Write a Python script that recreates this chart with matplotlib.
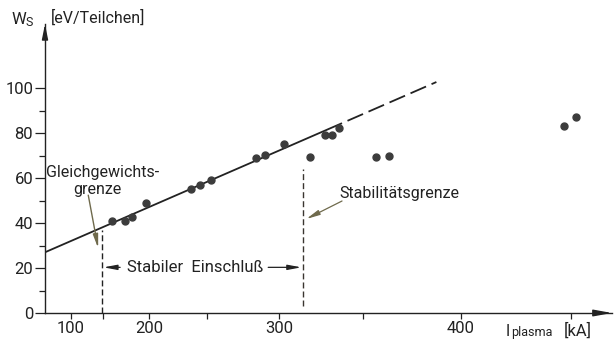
import numpy as np
import matplotlib
matplotlib.use("Agg")
import matplotlib.pyplot as plt

plt.rcParams["font.family"] = ["Roboto", "DejaVu Sans"]
plt.rcParams["lines.scale_dashes"] = False

# measured points: plasma current [kA] vs. W_s [eV/particle]
current_kA = [161, 175, 183, 197, 237, 244, 253, 285, 291, 303,
              319, 328, 332, 336, 357, 364, 447, 452]
energy_eV = [40.8, 41.0, 42.5, 49.0, 55.1, 56.7, 59.1, 68.7, 70.4, 75.1,
             69.2, 79.2, 79.1, 82.1, 69.3, 69.9, 83.2, 87.1]

# straight fit (in I^2), solid part then extrapolated part
fit_current = [0, 338, 388]
fit_energy = [27.0, 84.4, 102.7]

# limits
equilibrium_kA = 148
equilibrium_W = [0, 37]
stability_kA = 315
stability_W = [3, 64]

x_ticks = [100, 150, 200, 250, 300, 350, 400, 450]
x_labels = ["100", "", "200", "", "300", "", "400", ""]
y_ticks = [0, 20, 40, 60, 80, 100]
y_minor = [10, 30, 50, 70, 90]

ink = "#222222"
olive = "#6f6a4c"


def fwd(x):
    x = np.asarray(x, dtype=float)
    return np.sign(x) * x ** 2


def inv(x):
    x = np.asarray(x, dtype=float)
    return np.sign(x) * np.sqrt(np.abs(x))


fig = plt.figure(figsize=(6.14, 3.43), dpi=100)
ax = fig.add_axes([45 / 614, 30 / 343, 567 / 614, 289 / 343])
ax.set_xscale("function", functions=(fwd, inv))
ax.set_xlim(0, 467)
ax.set_ylim(0, 128.5)

for s in ["top", "right"]:
    ax.spines[s].set_visible(False)
for s in ["left", "bottom"]:
    ax.spines[s].set_linewidth(1.0)
    ax.spines[s].set_color(ink)

ax.set_xticks(x_ticks, x_labels)
ax.set_xticks([], minor=True)
ax.set_yticks(y_ticks)
ax.set_yticks(y_minor, minor=True)
ax.tick_params(axis="x", direction="out", length=4.5, width=0.9, pad=1.5,
               labelsize=12, colors=ink)
ax.tick_params(axis="y", which="major", direction="out", length=7, width=0.9,
               pad=1.5, labelsize=12, colors=ink)
ax.tick_params(axis="y", which="minor", direction="out", length=4.5, width=0.9,
               colors=ink)

# axis arrows
arrow_kw = dict(arrowstyle="-|>,head_length=0.9,head_width=0.18", color=ink,
                lw=1.0, shrinkA=0, shrinkB=0, mutation_scale=10)
ax.annotate("", xy=(0, 1), xytext=(0, 0.96), xycoords="axes fraction",
            arrowprops=arrow_kw, annotation_clip=False)
ax.annotate("", xy=(1, 0), xytext=(0.97, 0), xycoords="axes fraction",
            arrowprops=dict(arrow_kw, arrowstyle="-|>,head_length=1.1,head_width=0.2"),
            annotation_clip=False)

# fit line
ax.plot(fit_current[:2], fit_energy[:2], color=ink, lw=1.3,
        solid_capstyle="butt")
ax.plot(fit_current[1:], fit_energy[1:], color=ink, lw=1.3,
        linestyle=(12.2, (12.2, 4.3)), dash_capstyle="butt")

# data points
ax.plot(current_kA, energy_eV, "o", ms=5, color="#3c3c3c", mec="#3c3c3c",
        clip_on=False)

# limit lines
ax.plot([equilibrium_kA] * 2, equilibrium_W, color=ink, lw=1.0,
        linestyle=(0, (4.3, 2.2)))
ax.plot([stability_kA] * 2, stability_W, color="#3a3530", lw=1.0,
        linestyle=(0, (4.3, 2.2)))

# labels
ax.text(149, 60.4, "Gleichgewichts-", ha="center", va="baseline",
        fontsize=11.5, color=ink)
ax.text(142, 52.9, "grenze", ha="center", va="baseline", fontsize=11.5,
        color=ink)
ax.annotate("", xy=(143, 28.8), xytext=(129, 52.4),
            arrowprops=dict(arrowstyle="-|>,head_length=0.8,head_width=0.15",
                            color=olive, lw=1.0, shrinkA=0, shrinkB=0,
                            mutation_scale=10))

ax.text(240, 18.1, "Stabiler  Einschluß", ha="center", va="baseline",
        fontsize=12, color=ink)
small_arrow = dict(arrowstyle="-|>,head_length=0.8,head_width=0.15",
                   color=ink, lw=0.9, shrinkA=0, shrinkB=0, mutation_scale=10)
ax.annotate("", xy=(150, 20.3), xytext=(170, 20.3), arrowprops=small_arrow)
ax.annotate("", xy=(314, 20.3), xytext=(293, 20.3), arrowprops=small_arrow)

ax.text(369, 51.0, "Stabilitätsgrenze", ha="center", va="baseline",
        fontsize=11.5, color=ink)
ax.annotate("", xy=(317, 41.8), xytext=(338, 49.8),
            arrowprops=dict(small_arrow, color=olive))

# axis titles
fig.text(11 / 614, 1 - 24.5 / 343, "W", fontsize=12, color=ink,
         va="baseline")
fig.text(25.5 / 614, 1 - 26.5 / 343, "S", fontsize=9, color=ink,
         va="baseline")
fig.text(51 / 614, 1 - 23 / 343, "[eV/Teilchen]", fontsize=11.5, color=ink,
         va="baseline")
fig.text(506 / 614, 1 - 336 / 343, "I", fontsize=11.5, color=ink,
         va="baseline")
fig.text(511 / 614, 1 - 336 / 343, "plasma", fontsize=9, color=ink,
         va="baseline")
fig.text(564 / 614, 1 - 336 / 343, "[kA]", fontsize=12, color=ink,
         va="baseline")

fig.savefig("out.png", dpi=100)
